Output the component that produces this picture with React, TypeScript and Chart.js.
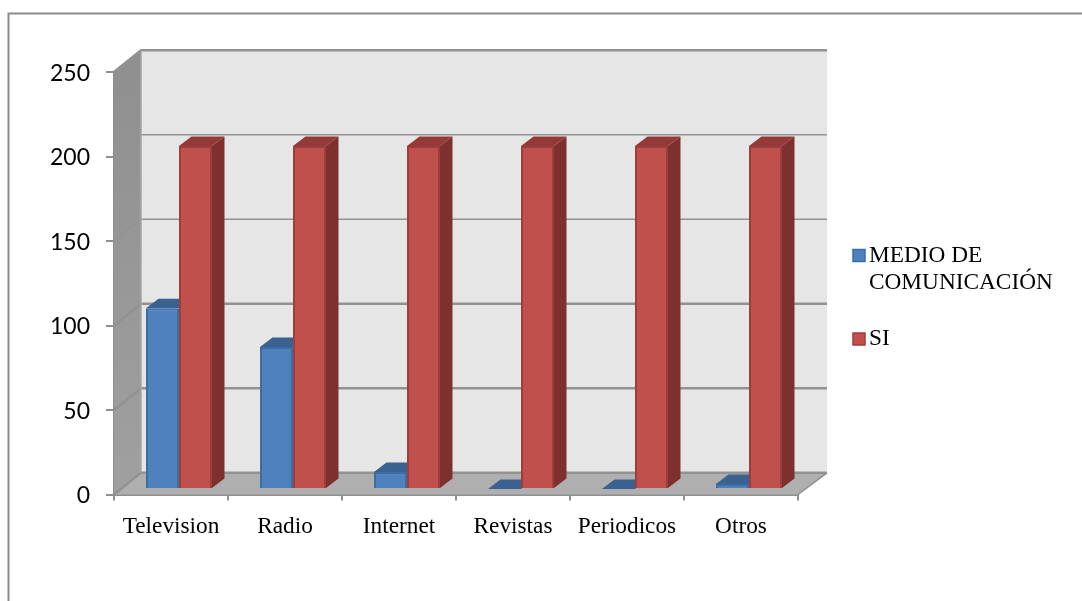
import React, { useEffect, useRef } from "react";
import { Chart, registerables } from "chart.js";

Chart.register(...registerables);

const categories = ["Television", "Radio", "Internet", "Revistas", "Periodicos", "Otros"];
const medioValues = [107, 84, 10, 0, 0, 3];
const siValues = [203, 203, 203, 203, 203, 203];
const yTicks = [0, 50, 100, 150, 200, 250];
const seriesNames: (string | string[])[] = [["MEDIO DE", "COMUNICACIÓN"], "SI"];

const BLUE = { front: "#4F81BD", top: "#3A6190", side: "#2F5077", edge: "#3D6CA3" };
const RED = { front: "#C0504D", top: "#953A38", side: "#7D302E", edge: "#9C3E3B" };
const SERIF = "'Liberation Serif', serif";
const SANS = "Lato, sans-serif";

const DEPTH = { x: 27, y: -21.7 }; // wall depth
const BAR_SHIFT = { x: 8, y: -5.5 }; // bar position in depth
const BAR_DEPTH = { x: 12.5, y: -9.5 };
const GRID_WIDTHS = [2.5, 2.5, 2.5, 1.4, 1.4, 2.5];

function poly(ctx: CanvasRenderingContext2D, pts: number[][], fill: any) {
  ctx.beginPath();
  pts.forEach(([x, y], i) => (i ? ctx.lineTo(x, y) : ctx.moveTo(x, y)));
  ctx.closePath();
  ctx.fillStyle = fill;
  ctx.fill();
}

function line(ctx: CanvasRenderingContext2D, pts: number[][], color: string, w: number) {
  ctx.beginPath();
  pts.forEach(([x, y], i) => (i ? ctx.lineTo(x, y) : ctx.moveTo(x, y)));
  ctx.strokeStyle = color;
  ctx.lineWidth = w;
  ctx.stroke();
}

const frame3d = {
  id: "frame3d",
  beforeDatasetsDraw(chart: any) {
    const { ctx, chartArea: a, scales } = chart;
    const L = a.left, R = a.right, B = a.bottom, T = a.top;
    const dx = DEPTH.x, dy = DEPTH.y;
    const backR = R + dx + 2;
    ctx.save();
    // outer frame: top and left edges show, the others fall outside the picture
    line(ctx, [[8.5, 601], [8.5, 13.5], [1082, 13.5]], "#8C8C8C", 2);
    // back wall
    poly(ctx, [[L + dx, T + dy], [backR, T + dy], [backR, B + dy], [L + dx, B + dy]], "#E6E6E6");
    // side wall
    const g = ctx.createLinearGradient(0, T, 0, B);
    g.addColorStop(0, "#909090");
    g.addColorStop(1, "#A0A0A0");
    poly(ctx, [[L, T], [L + dx, T + dy], [L + dx, B + dy], [L, B]], g);
    // floor
    poly(ctx, [[L, B], [L + dx, B + dy], [backR, B + dy], [R, B]], "#AFAFAF");
    // grid
    yTicks.forEach((v, i) => {
      const y = scales.y.getPixelForValue(v);
      line(ctx, [[L, y], [L + dx, y + dy], [backR, y + dy]], "#929292", GRID_WIDTHS[i]);
    });
    line(ctx, [[L + dx, T + dy], [L + dx, B + dy]], "#A6A6A6", 1.5);
    line(ctx, [[R, B], [backR, B + dy]], "#8F8F8F", 1.5);
    ctx.restore();
    // bars sit inside the depth of the plot; blue goes first so red covers its side
    ctx.save();
    ctx.translate(BAR_SHIFT.x, BAR_SHIFT.y);
    [0, 1].forEach((i) => {
      const pal = i === 0 ? BLUE : RED;
      const meta = chart.getDatasetMeta(i);
      meta.data.forEach((bar: any) => {
        const hw = bar.width / 2;
        const l = bar.x - hw, r = bar.x + hw, t = bar.y, b = bar.base;
        const { x: ox, y: oy } = BAR_DEPTH;
        poly(ctx, [[r, t], [r + ox, t + oy], [r + ox, b + oy], [r, b]], pal.side);
        poly(ctx, [[l, t], [l + ox, t + oy], [r + ox, t + oy], [r, t]], pal.top);
      });
      meta.controller.draw();
    });
    ctx.restore();
    return false;
  },
  afterDraw(chart: any) {
    const { ctx } = chart;
    ctx.save();
    const items = [
      { name: seriesNames[0], pal: BLUE, y: 255.5 },
      { name: seriesNames[1], pal: RED, y: 339 },
    ];
    ctx.font = `23.3px ${SERIF}`;
    ctx.textBaseline = "middle";
    ctx.textAlign = "left";
    items.forEach(({ name, pal, y }) => {
      ctx.fillStyle = pal.front;
      ctx.strokeStyle = pal.edge;
      ctx.lineWidth = 1.5;
      ctx.fillRect(853, y - 6, 12, 12);
      ctx.strokeRect(853, y - 6, 12, 12);
      ctx.fillStyle = "#000";
      (Array.isArray(name) ? name : [name]).forEach((s, i) => ctx.fillText(s, 869, y + i * 27));
    });
    ctx.restore();
  },
};

export default function App() {
  const ref = useRef<HTMLCanvasElement>(null);
  useEffect(() => {
    const chart = new Chart(ref.current!, {
      type: "bar",
      data: {
        labels: categories,
        datasets: [
          {
            label: "MEDIO DE COMUNICACIÓN",
            data: medioValues,
            backgroundColor: BLUE.front,
            borderColor: BLUE.edge,
            borderWidth: 2,
          },
          {
            label: "SI",
            data: siValues,
            backgroundColor: RED.front,
            borderColor: RED.edge,
            borderWidth: 2,
          },
        ],
      },
      plugins: [frame3d],
      options: {
        animation: false,
        responsive: false,
        devicePixelRatio: 1,
        layout: { padding: { left: 0, right: 284, top: 72, bottom: 0 } },
        plugins: { legend: { display: false }, tooltip: { enabled: false }, title: { display: false } },
        datasets: { bar: { barPercentage: 1, categoryPercentage: 66 / 114 } },
        scales: {
          x: {
            grid: { drawOnChartArea: false, drawTicks: true, tickLength: 6, color: "#8F8F8F", lineWidth: 2 },
            border: { color: "#8F8F8F", width: 2 },
            ticks: { color: "#000", font: { family: SERIF, size: 23.3 }, padding: 12, maxRotation: 0 },
            afterFit(s: any) { s.height = 106.5; },
          },
          y: {
            min: 0,
            max: 250,
            afterBuildTicks(s: any) { s.ticks = yTicks.map((value) => ({ value })); },
            grid: { drawOnChartArea: false, drawTicks: true, tickLength: 8, color: "#8F8F8F", lineWidth: 2 },
            border: { color: "#8F8F8F", width: 2 },
            ticks: { color: "#000", font: { family: SANS, size: 23 }, padding: 16, labelOffset: 1.5 },
            afterFit(s: any) { s.width = 114; },
          },
        },
      },
    } as any);
    return () => chart.destroy();
  }, []);
  return (
    <div style={{ position: "fixed", left: 0, top: 0, width: 1082, height: 601, background: "#fff" }}>
      <canvas ref={ref} width={1082} height={601} style={{ display: "block" }} />
    </div>
  );
}
